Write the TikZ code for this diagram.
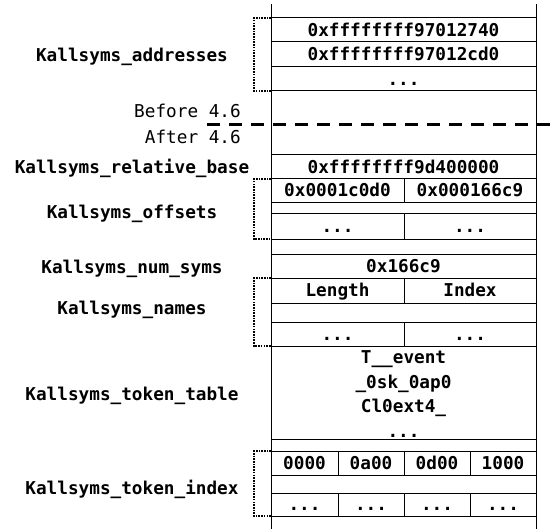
\documentclass[tikz,border=0pt]{standalone}
\usepackage{fontspec}
\newfontfamily\mono{DejaVu Sans Mono}
\begin{document}
\begin{tikzpicture}[x=1pt,y=-1pt,
  box/.style={draw, line width=1pt, anchor=north west, inner sep=0pt, outer sep=0pt},
  cell/.style={box, font=\mono\bfseries\fontsize{17.7}{20}\selectfont, text height=12.8pt, text depth=0pt},
  lbl/.style={inner sep=0pt, font=\mono\bfseries\fontsize{17.7}{20}\selectfont, text height=12.8pt, text depth=0pt},
  ver/.style={inner sep=0pt, font=\mono\fontsize{17.7}{20}\selectfont, text height=12.8pt, text depth=0pt, anchor=east},
  brk/.style={line width=1.6pt, dash pattern=on 1.6pt off 1.1pt},
  rail/.style={line width=1pt},
  sep/.style={line width=3pt, dash pattern=on 13pt off 9pt}]
\useasboundingbox (0,0) rectangle (553,529);
% rails
\coordinate (lt) at (271,4); \coordinate (lb) at (271,529);
\coordinate (rt) at (536,4); \coordinate (rbm) at (536,529);
\draw[rail] (lt) -- (lb);
\draw[rail] (rt) -- (rbm);
% addresses
\node[cell, minimum width=265pt, minimum height=24pt] (a1) at (271,18) {0xffffffff97012740};
\node[cell, minimum width=265pt, minimum height=25pt] (a2) at (271,42) {0xffffffff97012cd0};
\node[cell, minimum width=265pt, minimum height=24pt] (a3) at (271,67) {...};
% version separator
\coordinate (d1) at (207,125); \coordinate (d2) at (553,125);
\draw[sep] (d1) -- (d2);
% relative base
\node[cell, minimum width=265pt, minimum height=24pt] (rb) at (271,155) {0xffffffff9d400000};
% offsets
\node[cell, minimum width=133pt, minimum height=23pt] (o1l) at (271,179) {0x0001c0d0};
\node[cell, minimum width=132pt, minimum height=23pt] (o1r) at (404,179) {0x000166c9};
\node[box, minimum width=265pt, minimum height=11pt] (o2) at (271,202) {};
\node[cell, minimum width=133pt, minimum height=26pt] (o3l) at (271,213) {...};
\node[cell, minimum width=132pt, minimum height=26pt] (o3r) at (404,213) {...};
% num syms
\node[cell, minimum width=265pt, minimum height=24pt] (ns) at (271,254) {0x166c9};
% names
\node[cell, minimum width=133pt, minimum height=25pt] (n1l) at (271,278) {Length};
\node[cell, minimum width=132pt, minimum height=25pt] (n1r) at (404,278) {Index};
\node[box, minimum width=265pt, minimum height=19pt] (n2) at (271,303) {};
\node[cell, minimum width=133pt, minimum height=24pt] (n3l) at (271,322) {...};
\node[cell, minimum width=132pt, minimum height=24pt] (n3r) at (404,322) {...};
% token table
\node[box, minimum width=265pt, minimum height=93pt] (tt) at (271,346) {};
\node[inner sep=0pt, anchor=north, align=center, font=\mono\bfseries\fontsize{17.7}{24.5}\selectfont] (ttx) at (403.5,350.5) {T\_\_event\\\_0sk\_0ap0\\Cl0ext4\_\\...};
% token index
\node[cell, minimum width=67pt, minimum height=24pt] (i1) at (271,451) {0000};
\node[cell, minimum width=66pt, minimum height=24pt] (i2) at (338,451) {0a00};
\node[cell, minimum width=66pt, minimum height=24pt] (i3) at (404,451) {0d00};
\node[cell, minimum width=66pt, minimum height=24pt] (i4) at (470,451) {1000};
\node[box, minimum width=265pt, minimum height=18pt] (i5) at (271,475) {};
\node[cell, minimum width=67pt, minimum height=23pt] (j1) at (271,493) {...};
\node[cell, minimum width=66pt, minimum height=23pt] (j2) at (338,493) {...};
\node[cell, minimum width=66pt, minimum height=23pt] (j3) at (404,493) {...};
\node[cell, minimum width=66pt, minimum height=23pt] (j4) at (470,493) {...};
% brackets
\draw[brk] (a1.north west) -- ++(-17,0) |- (a3.south west);
\draw[brk] (o1l.north west) -- ++(-17,0) |- (o3l.south west);
\draw[brk] (n1l.north west) -- ++(-17,0) |- (n3l.south west);
\draw[brk] (i1.north west) -- ++(-17,0) |- (j1.south west);
% labels
\node[lbl] (la) at (132,55) {Kallsyms\_addresses};
\node[ver] (bf) at (241,111) {Before 4.6};
\node[ver] (af) at (241,137) {After 4.6};
\node[lbl] (lr) at (132,167) {Kallsyms\_relative\_base};
\node[lbl] (lo) at (132,212) {Kallsyms\_offsets};
\node[lbl] (ln) at (132,267) {Kallsyms\_num\_syms};
\node[lbl] (lnm) at (132,308) {Kallsyms\_names};
\node[lbl] (ltt) at (132,394) {Kallsyms\_token\_table};
\node[lbl] (lti) at (132,488) {Kallsyms\_token\_index};
\end{tikzpicture}
\end{document}
